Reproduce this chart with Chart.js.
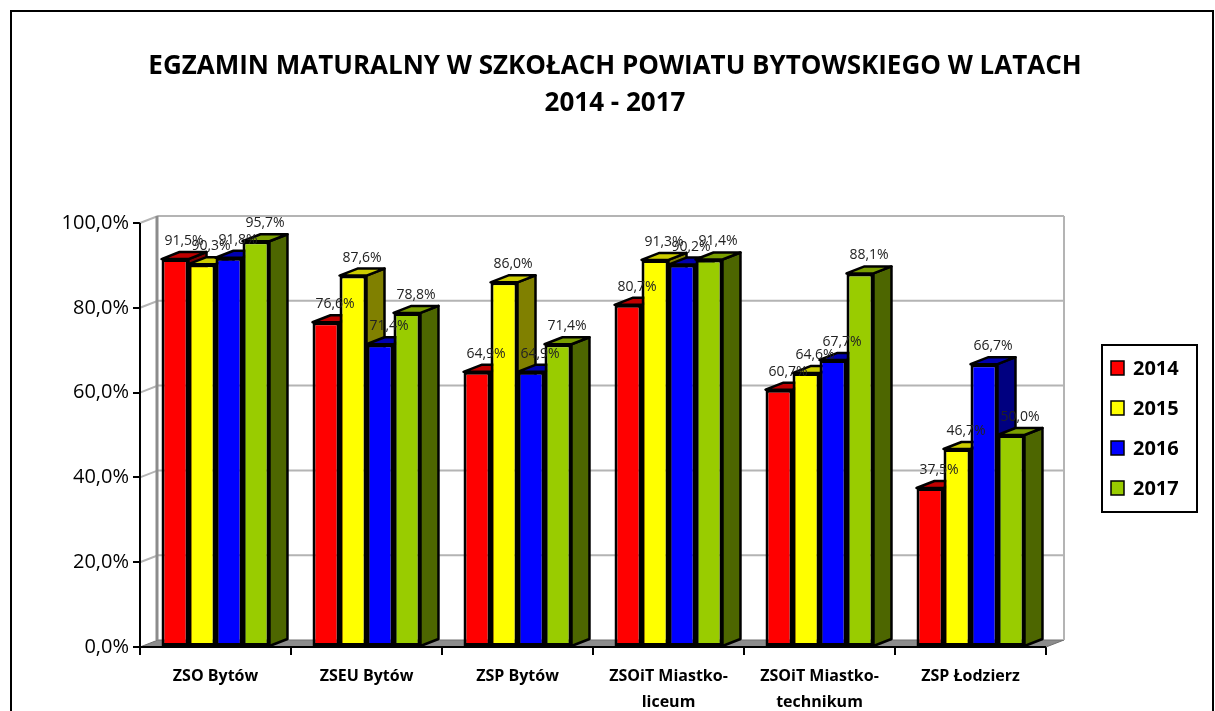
<!DOCTYPE html>
<html>
<head>
<meta charset="utf-8">
<script src="https://cdn.jsdelivr.net/npm/chart.js@4"></script>
<style>
html, body { margin: 0; padding: 0; background: #fff; }
</style>
</head>
<body>
<canvas id="myChart" width="1215" height="711"></canvas>
<script>
var titleLines = ["EGZAMIN MATURALNY W SZKOŁACH POWIATU BYTOWSKIEGO W LATACH", "2014 - 2017"];
var categories = ["ZSO Bytów", "ZSEU Bytów", "ZSP Bytów", ["ZSOiT Miastko-", "liceum"], ["ZSOiT Miastko-", "technikum"], "ZSP Łodzierz"];
var years = ["2014", "2015", "2016", "2017"];
var v2014 = [91.5, 76.6, 64.9, 80.7, 60.7, 37.5];
var v2015 = [90.3, 87.6, 86.0, 91.3, 64.6, 46.7];
var v2016 = [91.8, 71.4, 64.9, 90.2, 67.7, 66.7];
var v2017 = [95.7, 78.8, 71.4, 91.4, 88.1, 50.0];
var yTicks = [0, 20, 40, 60, 80, 100];

var fronts = ["#FF0000", "#FFFF00", "#0000FF", "#99CC00"];
var tops = ["#C00000", "#CCCC00", "#0000B0", "#7A9E00"];
var sides = ["#800000", "#808000", "#000080", "#4D6600"];
var dx = 18, dy = 7;

function pct(v) {
    return v.toFixed(1).replace(".", ",") + "%";
}

function poly(c, pts, fill) {
    c.beginPath();
    c.moveTo(pts[0][0], pts[0][1]);
    for (var k = 1; k < pts.length; k++) c.lineTo(pts[k][0], pts[k][1]);
    c.closePath();
    c.fillStyle = fill;
    c.fill();
    c.stroke();
}

var extras = {
    id: "extras",
    beforeDraw: function (chart) {
        var c = chart.ctx;
        c.save();
        c.fillStyle = "#fff";
        c.fillRect(0, 0, chart.width, chart.height);
        c.strokeStyle = "#000";
        c.lineWidth = 2;
        c.strokeRect(11, 11, 1202, 720);
        c.fillStyle = "#000";
        c.font = 'bold 26px "Open Sans"';
        c.textAlign = "center";
        c.textBaseline = "middle";
        c.fillText(titleLines[0], 615, 67);
        c.fillText(titleLines[1], 615, 104);
        c.restore();
    },
    beforeDatasetsDraw: function (chart) {
        var c = chart.ctx, a = chart.chartArea, ys = chart.scales.y;
        c.save();
        // floor
        c.strokeStyle = "#707070";
        c.lineWidth = 1;
        poly(c, [[a.left, a.bottom], [a.right, a.bottom], [a.right + dx, a.bottom - dy], [a.left + dx, a.bottom - dy]], "#8C8C8C");
        // back wall grid
        c.strokeStyle = "#B4B4B4";
        c.lineWidth = 2;
        yTicks.forEach(function (v) {
            if (v === 0) return;
            var y = ys.getPixelForValue(v);
            c.beginPath();
            c.moveTo(a.left, y);
            c.lineTo(a.left + dx, y - dy);
            c.lineTo(a.right + dx, y - dy);
            c.stroke();
        });
        c.beginPath();
        c.moveTo(a.right + dx, a.top - dy);
        c.lineTo(a.right + dx, a.bottom - dy);
        c.stroke();
        c.strokeStyle = "#8C8C8C";
        c.lineWidth = 3;
        c.beginPath();
        c.moveTo(a.left + dx - 1, a.top - dy);
        c.lineTo(a.left + dx - 1, a.bottom - dy);
        c.stroke();
        // axes
        c.strokeStyle = "#000";
        c.lineWidth = 2;
        c.beginPath();
        c.moveTo(a.left, a.top);
        c.lineTo(a.left, a.bottom);
        c.lineTo(a.right, a.bottom);
        c.stroke();
        // 3d sides and tops
        c.lineWidth = 2.5;
        c.strokeStyle = "#000";
        c.lineJoin = "round";
        var n = chart.data.labels.length;
        for (var j = 0; j < n; j++) {
            for (var i = 0; i < chart.data.datasets.length; i++) {
                var el = chart.getDatasetMeta(i).data[j];
                var w = el.width, x0 = el.x - w / 2, x1 = el.x + w / 2, yt = el.y, yb = el.base;
                poly(c, [[x1, yt], [x1 + dx, yt - dy], [x1 + dx, yb - dy], [x1, yb]], sides[i]);
                poly(c, [[x0, yt], [x1, yt], [x1 + dx, yt - dy], [x0 + dx, yt - dy]], tops[i]);
            }
        }
        c.restore();
    },
    afterDatasetsDraw: function (chart) {
        var c = chart.ctx;
        c.save();
        c.font = '14px "Open Sans"';
        c.fillStyle = "#222";
        c.textAlign = "center";
        c.textBaseline = "bottom";
        chart.data.datasets.forEach(function (ds, i) {
            chart.getDatasetMeta(i).data.forEach(function (el, j) {
                c.fillText(pct(ds.data[j]), el.x + dx / 2, el.y - dy - 4);
            });
        });
        c.restore();
    },
    afterDraw: function (chart) {
        var c = chart.ctx;
        c.save();
        c.strokeStyle = "#000";
        c.lineWidth = 2;
        c.strokeRect(1102, 345, 95, 167);
        c.font = 'bold 20px "Open Sans"';
        c.textAlign = "left";
        c.textBaseline = "middle";
        chart.data.datasets.forEach(function (ds, i) {
            var y = 368 + i * 40;
            c.fillStyle = fronts[i];
            c.fillRect(1111, y - 7, 13, 14);
            c.lineWidth = 1.5;
            c.strokeRect(1111, y - 7, 13, 14);
            c.fillStyle = "#000";
            c.fillText(ds.label, 1133, y + 1);
        });
        c.restore();
    }
};

var datasets = [v2014, v2015, v2016, v2017].map(function (vals, i) {
    return {
        label: years[i],
        data: vals,
        backgroundColor: fronts[i],
        borderColor: "#000",
        borderWidth: 3,
        borderSkipped: false
    };
});

var ctx = document.getElementById("myChart");
var myChart = new Chart(ctx, {
    type: "bar",
    data: {
        labels: categories,
        datasets: datasets
    },
    options: {
        responsive: false,
        animation: false,
        devicePixelRatio: 1,
        categoryPercentage: 0.715,
        barPercentage: 1,
        layout: { padding: { left: 0, right: 169, top: 223, bottom: 0 } },
        plugins: {
            legend: { display: false },
            title: { display: false },
            tooltip: { enabled: false }
        },
        scales: {
            x: {
                border: { display: false },
                grid: { offset: true, drawOnChartArea: false, tickLength: 8, color: "#000", lineWidth: 2 },
                ticks: {
                    color: "#000",
                    font: { family: "Open Sans", size: 16, weight: "bold", lineHeight: 26 / 16 },
                    padding: 8,
                    maxRotation: 0,
                    autoSkip: false
                },
                afterFit: function (scale) { scale.height = 64; }
            },
            y: {
                min: 0,
                max: 100,
                border: { display: false },
                grid: { drawOnChartArea: false, tickLength: 7, color: "#000", lineWidth: 2 },
                ticks: {
                    stepSize: 20,
                    color: "#000",
                    padding: 4,
                    font: { family: "Open Sans", size: 20 },
                    callback: function (v) { return pct(v); }
                },
                afterFit: function (scale) { scale.width = 140; }
            }
        }
    },
    plugins: [extras]
});
</script>
</body>
</html>
